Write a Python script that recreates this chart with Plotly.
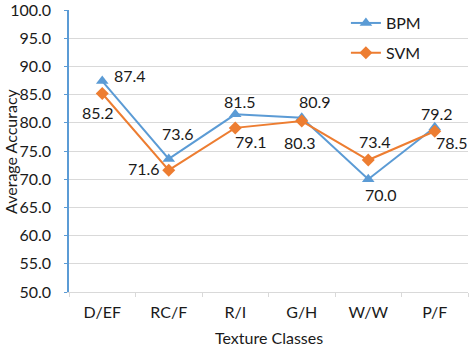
import plotly.graph_objects as go

categories = ["D/EF", "RC/F", "R/I", "G/H", "W/W", "P/F"]
bpm = [87.4, 73.6, 81.5, 80.9, 70.0, 79.2]
svm = [85.2, 71.6, 79.1, 80.3, 73.4, 78.5]
y_ticks = [50, 55, 60, 65, 70, 75, 80, 85, 90, 95, 100]

BLUE = "#5B9BD5"
ORANGE = "#ED7D31"
FONT = "Lato"
FS = 16
TXT = "#1a1a1a"

fig = go.Figure()
fig.add_trace(go.Scatter(x=categories, y=bpm, mode="lines+markers", name="BPM",
                         legendgroup="a",
                         line=dict(color=BLUE, width=2),
                         marker=dict(symbol="triangle-up", size=11, color=BLUE)))
fig.add_trace(go.Scatter(x=categories, y=svm, mode="lines+markers", name="SVM",
                         legendgroup="b",
                         line=dict(color=ORANGE, width=2),
                         marker=dict(symbol="diamond", size=10, color=ORANGE)))

# label offsets (px) per point
bpm_off = [(28, 6), (9, 25), (5, 13), (13, 16), (13, -15), (2, 14)]
svm_off = [(-4, -19), (-25, 2), (16, -14), (-2, -21), (7, 19), (17, -11)]
for c, v, (dx, dy) in zip(categories, bpm, bpm_off):
    fig.add_annotation(x=c, y=v, text=f"{v:.1f}", showarrow=False,
                       xshift=dx, yshift=dy, font=dict(family=FONT, size=FS, color=TXT))
for c, v, (dx, dy) in zip(categories, svm, svm_off):
    fig.add_annotation(x=c, y=v, text=f"{v:.1f}", showarrow=False,
                       xshift=dx, yshift=dy, font=dict(family=FONT, size=FS, color=TXT))

# axis titles
fig.add_annotation(xref="paper", yref="paper", x=-0.148, y=0.5, xanchor="center",
                   yanchor="middle", text="Average Accuracy",
                   textangle=-90, showarrow=False, font=dict(family=FONT, size=FS, color=TXT))
fig.add_annotation(xref="paper", yref="paper", x=0.5, y=-0.163, xanchor="center",
                   yanchor="middle", text="Texture Classes", showarrow=False,
                   font=dict(family=FONT, size=FS, color=TXT))

fig.update_layout(
    width=474, height=351,
    margin=dict(l=69, r=6, t=10, b=59, autoexpand=False),
    paper_bgcolor="white", plot_bgcolor="white",
    font=dict(family=FONT, size=FS, color=TXT),
    showlegend=True,
    legend=dict(x=0.694, xanchor="left", y=1.014, yanchor="top",
                traceorder="grouped", tracegroupgap=6,
                bgcolor="rgba(0,0,0,0)", font=dict(family=FONT, size=FS)),
    xaxis=dict(automargin=False, range=[-0.5, len(categories) - 0.5],
               showgrid=False, showline=True, linecolor="#D9D9D9", linewidth=1,
               ticks="outside", tickson="boundaries", ticklen=4, tickcolor="#D9D9D9",
               ticklabelstandoff=6, tickfont=dict(size=FS)),
    yaxis=dict(automargin=False,
               range=[50, 100], tickvals=y_ticks, tickformat=".1f",
               showgrid=True, gridcolor="#D9D9D9", gridwidth=1,
               showline=True, linecolor=BLUE, linewidth=1.5,
               ticks="outside", ticklen=3, tickcolor=BLUE,
               ticklabelstandoff=10, ticklabeloverflow="allow",
               zeroline=False, tickfont=dict(size=FS)),
)

# remove the default 8px page margin so the figure fills the window exactly
fig.write_html("out.html", config={"displayModeBar": False},
               post_script="document.body.style.margin='0';")
